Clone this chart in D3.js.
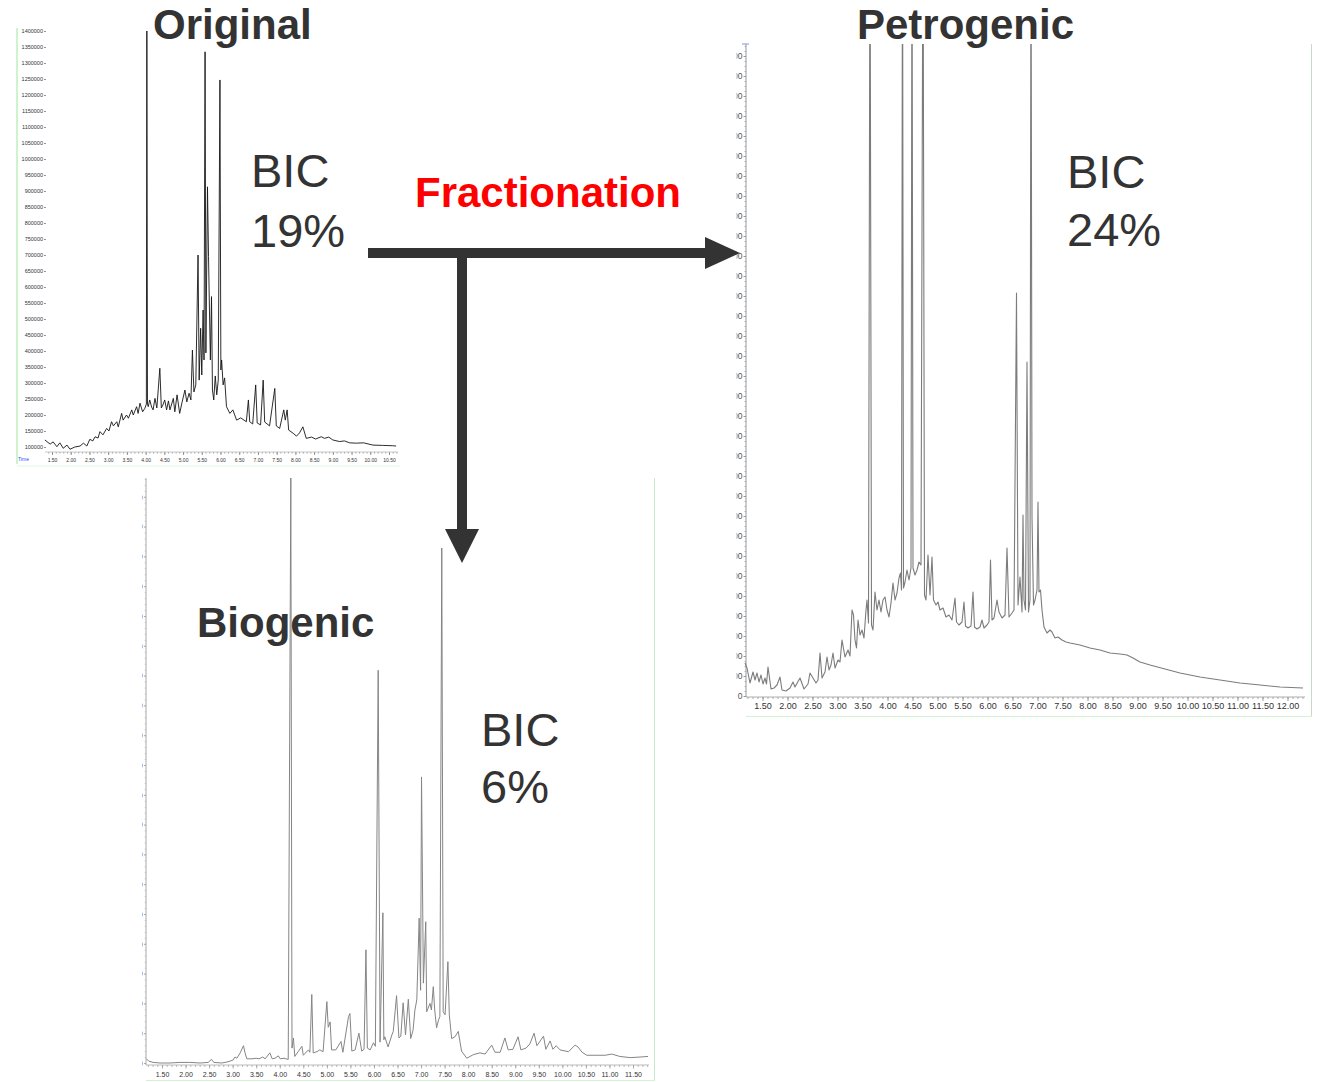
<!DOCTYPE html>
<html>
<head>
<meta charset="utf-8">
<script src="https://cdn.jsdelivr.net/npm/d3@7"></script>
<style>
  body { margin: 0; background: #fff; }
  svg { display: block; font-family: "Liberation Sans", Arial, sans-serif; }
</style>
</head>
<body>
<svg id="fig" width="1319" height="1082"></svg>
<script>
// ---- Chromatogram traces: [retention time (min), abundance (thousand counts)] ----
const originalTrace = [
  [1.31,122],[1.45,109],[1.53,116],[1.63,101],[1.71,113],[1.80,96],[1.90,106],[1.98,93],[2.11,100],[2.25,103],
  [2.34,112],[2.43,103],[2.51,124],[2.59,119],[2.65,132],[2.73,128],[2.78,148],[2.86,138],[2.96,158],[3.02,150],
  [3.09,179],[3.14,166],[3.23,179],[3.27,163],[3.36,205],[3.40,184],[3.49,200],[3.54,190],[3.63,216],[3.67,200],
  [3.76,226],[3.80,205],[3.85,237],[3.92,210],[3.98,221],[4.02,234],[4.033,1400],[4.05,234],[4.07,226],[4.11,247],
  [4.16,225],[4.20,216],[4.25,252],[4.30,222],[4.38,346],[4.42,222],[4.46,231],[4.51,247],[4.56,216],[4.61,244],
  [4.65,216],[4.74,252],[4.78,210],[4.84,263],[4.91,205],[4.97,238],[5.05,278],[5.10,241],[5.16,268],[5.21,247],
  [5.25,403],[5.29,272],[5.34,294],[5.40,700],[5.43,309],[5.47,471],[5.50,325],[5.535,528],[5.56,372],[5.588,1335],
  [5.61,394],[5.652,913],[5.68,695],[5.705,528],[5.73,372],[5.76,570],[5.785,278],[5.82,247],[5.86,322],[5.90,263],
  [5.94,309],[5.985,1247],[6.01,341],[6.03,372],[6.07,294],[6.11,316],[6.16,226],[6.25,205],[6.33,216],[6.43,184],
  [6.54,191],[6.69,179],[6.745,247],[6.78,179],[6.86,172],[6.94,294],[6.98,175],[7.07,169],[7.14,309],[7.18,178],
  [7.31,166],[7.45,283],[7.49,166],[7.58,158],[7.69,216],[7.73,184],[7.78,216],[7.82,153],[7.94,143],[8.03,134],
  [8.11,144],[8.20,163],[8.29,127],[8.43,131],[8.54,125],[8.69,132],[8.78,127],[8.89,131],[9.00,122],[9.18,117],
  [9.31,119],[9.45,113],[9.63,112],[9.82,113],[10.07,106],[10.33,105],[10.60,104],[10.69,103]
];

const petrogenicTrace = [
  [1.15,33],[1.19,28],[1.25,13],[1.31,24],[1.35,16],[1.39,23],[1.43,14],[1.47,21],[1.51,12],[1.55,18],
  [1.58,12],[1.61,29],[1.67,7],[1.73,8],[1.79,11],[1.85,19],[1.89,6],[1.97,5],[2.05,8],[2.11,14],
  [2.15,9],[2.25,18],[2.33,7],[2.41,12],[2.45,23],[2.51,18],[2.57,13],[2.61,16],[2.65,43],[2.69,18],
  [2.75,24],[2.79,39],[2.83,26],[2.87,31],[2.91,43],[2.95,28],[3.01,36],[3.05,34],[3.09,56],[3.15,39],
  [3.21,46],[3.25,40],[3.29,86],[3.32,81],[3.35,56],[3.38,48],[3.41,76],[3.45,61],[3.49,66],[3.53,58],
  [3.57,86],[3.59,96],[3.62,73],[3.65,800],[3.68,71],[3.71,66],[3.75,104],[3.79,86],[3.83,96],[3.87,84],
  [3.91,96],[3.95,99],[3.99,86],[4.03,79],[4.07,93],[4.11,113],[4.15,96],[4.19,103],[4.23,118],[4.26,123],
  [4.28,106],[4.30,800],[4.32,108],[4.35,114],[4.39,126],[4.43,116],[4.47,128],[4.49,800],[4.51,128],[4.55,121],
  [4.59,126],[4.63,134],[4.67,131],[4.71,800],[4.74,101],[4.77,96],[4.81,141],[4.85,101],[4.89,139],[4.92,96],
  [4.97,91],[5.01,94],[5.05,86],[5.11,88],[5.17,79],[5.23,81],[5.29,76],[5.35,98],[5.38,74],[5.43,71],
  [5.49,74],[5.53,94],[5.56,70],[5.61,68],[5.67,70],[5.71,104],[5.74,69],[5.79,67],[5.85,69],[5.89,76],
  [5.93,68],[5.99,71],[6.03,74],[6.06,136],[6.09,76],[6.13,78],[6.19,96],[6.23,84],[6.29,78],[6.35,81],
  [6.39,148],[6.43,79],[6.49,83],[6.53,86],[6.58,403],[6.61,91],[6.65,119],[6.69,84],[6.71,181],[6.73,96],
  [6.76,86],[6.79,334],[6.82,84],[6.85,96],[6.87,800],[6.89,179],[6.92,91],[6.95,96],[6.99,106],[7.01,194],
  [7.03,104],[7.06,106],[7.09,86],[7.13,69],[7.19,63],[7.25,66],[7.29,64],[7.35,58],[7.41,59],[7.49,56],
  [7.57,54],[7.65,53],[7.85,51],[8.05,48],[8.25,46],[8.45,43],[8.65,42],[8.79,41],[8.91,38],[9.05,34],
  [9.25,31],[9.55,27],[9.85,23],[10.25,19],[10.65,16],[11.05,13],[11.45,11],[11.85,9],[12.31,8]
];

const biogenicTrace = [
  [1.17,7],[1.22,3],[1.31,1],[1.46,0],[1.67,0],[1.88,1],[2.09,1],[2.31,0],[2.48,1],[2.55,6],
  [2.60,1],[2.77,0],[2.90,2],[3.01,5],[3.05,10],[3.09,8],[3.16,17],[3.23,29],[3.26,18],[3.30,7],
  [3.41,7],[3.50,8],[3.56,7],[3.64,10],[3.69,7],[3.79,17],[3.84,7],[3.90,8],[3.97,12],[4.01,7],
  [4.09,8],[4.18,6],[4.235,985],[4.26,25],[4.29,42],[4.32,11],[4.39,19],[4.47,28],[4.50,13],[4.61,22],
  [4.64,18],[4.68,115],[4.71,17],[4.79,19],[4.85,22],[4.92,19],[5.00,103],[5.03,60],[5.07,69],[5.10,22],
  [5.19,22],[5.30,36],[5.34,18],[5.46,78],[5.49,83],[5.53,20],[5.60,22],[5.68,50],[5.74,20],[5.79,23],
  [5.83,190],[5.86,25],[5.92,22],[5.99,34],[6.03,28],[6.09,659],[6.13,35],[6.19,252],[6.21,39],[6.23,44],
  [6.30,27],[6.38,47],[6.41,53],[6.48,113],[6.53,42],[6.57,45],[6.62,101],[6.67,47],[6.73,107],[6.78,41],
  [6.83,55],[6.87,89],[6.91,106],[6.96,243],[6.99,122],[7.01,480],[7.05,134],[7.10,237],[7.12,86],[7.15,92],
  [7.19,100],[7.22,89],[7.26,128],[7.29,89],[7.33,59],[7.37,72],[7.40,78],[7.44,864],[7.47,86],[7.51,81],
  [7.57,170],[7.60,81],[7.65,41],[7.72,44],[7.79,53],[7.86,20],[7.97,8],[8.11,14],[8.25,17],[8.36,15],
  [8.50,30],[8.57,18],[8.68,18],[8.78,42],[8.85,22],[8.95,23],[9.06,44],[9.12,22],[9.23,25],[9.31,32],
  [9.40,50],[9.46,29],[9.53,37],[9.60,45],[9.65,23],[9.74,37],[9.80,23],[9.87,29],[9.95,22],[10.13,19],
  [10.27,30],[10.33,27],[10.42,18],[10.52,13],[10.69,13],[10.91,13],[11.05,15],[11.22,11],[11.44,9],[11.65,10],
  [11.82,11]
];

// ---- Tick labels ----
const originalTimeTicks = ["1.50","2.00","2.50","3.00","3.50","4.00","4.50","5.00","5.50","6.00",
  "6.50","7.00","7.50","8.00","8.50","9.00","9.50","10.00","10.50"];
const petrogenicTimeTicks = ["1.50","2.00","2.50","3.00","3.50","4.00","4.50","5.00","5.50","6.00","6.50",
  "7.00","7.50","8.00","8.50","9.00","9.50","10.00","10.50","11.00","11.50","12.00"];
const biogenicTimeTicks = ["1.50","2.00","2.50","3.00","3.50","4.00","4.50","5.00","5.50","6.00","6.50",
  "7.00","7.50","8.00","8.50","9.00","9.50","10.00","10.50","11.00","11.50"];
const originalAbundanceTicks = [100,150,200,250,300,350,400,450,500,550,600,650,700,750,800,850,
  900,950,1000,1050,1100,1150,1200,1250,1300,1350,1400];
const petrogenicAbundanceTicks = [0,20,40,60,80,100,120,140,160,180,200,220,240,260,280,300,320,
  340,360,380,400,420,440,460,480,500,520,540,560,580,600,620,640];
const biogenicAbundanceTicks = [0,50,100,150,200,250,300,350,400,450,500,550,600,650,700,750,800,850,900,950];

// ---- Panel titles and annotations ----
const panelTitles = ["Original", "Petrogenic", "Biogenic"];
const bicShares = ["19%", "24%", "6%"];
const processLabel = "Fractionation";

const svg = d3.select("#fig");
const defs = svg.append("defs");
const countFmt = d => String(Math.round(d * 1000));

function vline(g, x, y1, y2, color, w) {
  g.append("line").attr("x1", x).attr("x2", x).attr("y1", y1).attr("y2", y2)
    .attr("stroke", color).attr("stroke-width", w);
}
function hline(g, y, x1, x2, color, w) {
  g.append("line").attr("x1", x1).attr("x2", x2).attr("y1", y).attr("y2", y)
    .attr("stroke", color).attr("stroke-width", w);
}

// One chromatogram panel: frame, axes, trace
function chromatogram(cfg) {
  const g = svg.append("g");
  const x = d3.scaleLinear().domain([1.5, cfg.lastTick]).range(cfg.xRange);
  const y = d3.scaleLinear().domain(cfg.yDomain).range(cfg.yRange);

  // frame lines
  cfg.frame(g);

  // time axis: minor ticks
  const minor = d3.range(Math.ceil(x.invert(cfg.plotLeft) * 10) / 10, x.invert(cfg.axisRight), 0.1);
  g.append("g").attr("transform", `translate(0,${cfg.axisY})`)
    .call(d3.axisBottom(x).tickValues(minor).tickSize(cfg.minorLen).tickFormat(""))
    .call(a => a.select(".domain").remove())
    .call(a => a.selectAll("line").attr("stroke", cfg.tickColor).attr("stroke-width", 0.7));
  // time axis: labelled ticks
  const major = g.append("g").attr("transform", `translate(0,${cfg.axisY})`)
    .call(d3.axisBottom(x).tickValues(cfg.timeTicks.map(Number)).tickSize(cfg.majorLen)
      .tickFormat(d3.format(".2f")))
    .call(a => a.select(".domain").remove())
    .call(a => a.selectAll("line").attr("stroke", cfg.tickColor).attr("stroke-width", 0.8));
  major.selectAll("text").attr("y", cfg.labelDy).attr("dy", null)
    .attr("font-size", cfg.timeFont).attr("fill", cfg.labelColor)
    .attr("font-family", '"Liberation Sans", Arial, sans-serif');
  hline(g, cfg.axisY, cfg.plotLeft, cfg.axisRight, cfg.axisColor, 0.8);

  // abundance axis
  const yAxisG = g.append("g").attr("transform", `translate(${cfg.yAxisX},0)`)
    .call(d3.axisLeft(y).tickValues(cfg.abundanceTicks).tickSize(cfg.yTickLen).tickPadding(cfg.yPad)
      .tickFormat(cfg.yFormat))
    .call(a => a.select(".domain").remove())
    .call(a => a.selectAll("line").attr("stroke", cfg.tickColor).attr("stroke-width", 0.8));
  yAxisG.selectAll("text").attr("font-size", cfg.yFont).attr("fill", cfg.yLabelColor)
    .attr("font-family", '"Liberation Sans", Arial, sans-serif');
  if (cfg.yClip) {
    const id = cfg.id + "-yclip";
    defs.append("clipPath").attr("id", id).append("rect")
      .attr("x", cfg.yClip - cfg.yAxisX).attr("y", 0).attr("width", 40).attr("height", 1082);
    yAxisG.selectAll(".tick text").attr("clip-path", null);
    yAxisG.attr("clip-path", `url(#${id})`);
  }
  if (cfg.yMinorStep) {
    const ym = d3.range(cfg.yDomain[0], y.invert(cfg.plotTop), cfg.yMinorStep);
    g.append("g").attr("transform", `translate(${cfg.yAxisX},0)`)
      .call(d3.axisLeft(y).tickValues(ym).tickSize(cfg.yMinorLen).tickFormat(""))
      .call(a => a.select(".domain").remove())
      .call(a => a.selectAll("line").attr("stroke", cfg.tickColor).attr("stroke-width", 0.6));
  }
  if (cfg.yAxisLine) vline(g, cfg.yAxisX, cfg.plotTop, cfg.axisY, cfg.axisColor, 1);

  // trace
  const clipId = cfg.id + "-clip";
  defs.append("clipPath").attr("id", clipId).append("rect")
    .attr("x", cfg.plotLeft - 2).attr("y", cfg.plotTop)
    .attr("width", cfg.axisRight - cfg.plotLeft + 4).attr("height", cfg.axisY - cfg.plotTop);
  const line = d3.line().x(d => x(d[0])).y(d => y(d[1]));
  g.append("path").datum(cfg.trace).attr("d", line)
    .attr("clip-path", `url(#${clipId})`)
    .attr("fill", "none").attr("stroke", cfg.traceColor).attr("stroke-width", cfg.traceWidth)
    .attr("stroke-linejoin", "round");
  return g;
}

// ---- Original ----
chromatogram({
  id: "orig", trace: originalTrace, timeTicks: originalTimeTicks, lastTick: 10.5,
  xRange: [52, 389], yDomain: [100, 1400], yRange: [447, 31],
  plotLeft: 45, plotTop: 26, axisRight: 398, axisY: 452,
  minorLen: 1.5, majorLen: 3, labelDy: 9.5, timeFont: 5, labelColor: "#333",
  tickColor: "#777", axisColor: "#bbb",
  abundanceTicks: originalAbundanceTicks, yAxisX: 46, yTickLen: 2, yPad: 1,
  yFormat: countFmt, yFont: 5.5, yLabelColor: "#333",
  traceColor: "#151515", traceWidth: 0.9,
  frame: g => {
    vline(g, 17, 28, 464, "#b9f0b9", 1.4);
    hline(g, 466, 17, 400, "#e2f6e2", 1);
    g.append("text").attr("x", 18).attr("y", 461).attr("font-size", 5)
      .attr("fill", "#3050ff").text("Time");
  }
});

// ---- Petrogenic ----
chromatogram({
  id: "petro", trace: petrogenicTrace, timeTicks: petrogenicTimeTicks, lastTick: 12.0,
  xRange: [762.5, 1287.5], yDomain: [0, 640], yRange: [696, 56],
  plotLeft: 746, plotTop: 44, axisRight: 1305, axisY: 697,
  minorLen: 2, majorLen: 4, labelDy: 12, timeFont: 9, labelColor: "#333",
  tickColor: "#888", axisColor: "#999",
  abundanceTicks: petrogenicAbundanceTicks, yAxisX: 746, yTickLen: 2.5, yPad: 1,
  yFormat: countFmt, yFont: 8.5, yLabelColor: "#555", yClip: 736.5,
  yMinorStep: 5, yMinorLen: 1.5, yAxisLine: true,
  traceColor: "#7c7c7c", traceWidth: 1.1,
  frame: g => {
    vline(g, 1311.5, 44, 717, "#c9d9c9", 1);
    hline(g, 716.5, 746, 1312, "#d3f3d3", 1);
    hline(g, 44, 742, 749, "#8090ff", 1);
  }
});

// ---- Biogenic ----
chromatogram({
  id: "bio", trace: biogenicTrace, timeTicks: biogenicTimeTicks, lastTick: 11.5,
  xRange: [162, 633], yDomain: [0, 950], yRange: [1063, 496.8],
  plotLeft: 146, plotTop: 478, axisRight: 649, axisY: 1065,
  minorLen: 2, majorLen: 3.5, labelDy: 11.5, timeFont: 7, labelColor: "#333",
  tickColor: "#999", axisColor: "#aaa",
  abundanceTicks: biogenicAbundanceTicks, yAxisX: 146, yTickLen: 2, yPad: 1,
  yFormat: countFmt, yFont: 7, yLabelColor: "#777", yClip: 142,
  yMinorStep: 10, yMinorLen: 1.2, yAxisLine: true,
  traceColor: "#858585", traceWidth: 1,
  frame: g => {
    vline(g, 654.5, 478, 1081, "#c9e9c9", 1);
    hline(g, 1080.5, 146, 655, "#d3f3d3", 1);
  }
});

// ---- Fractionation arrows ----
const ink = "#333";
svg.append("rect").attr("x", 368).attr("y", 248).attr("width", 340).attr("height", 10).attr("fill", ink);
svg.append("path").attr("d", "M705,237 L740,253 L705,269 Z").attr("fill", ink);
svg.append("rect").attr("x", 457).attr("y", 253).attr("width", 10).attr("height", 278).attr("fill", ink);
svg.append("path").attr("d", "M445,529 L479,529 L462,563 Z").attr("fill", ink);

// ---- Titles and annotations ----
const titlePos = [[153, 39], [857, 39], [197, 637]];
const bicPos = [[251, 187, 247], [1067, 188, 246], [481, 746, 803]];
panelTitles.forEach((t, i) => {
  svg.append("text").attr("x", titlePos[i][0]).attr("y", titlePos[i][1])
    .attr("font-size", 42).attr("font-weight", "bold").attr("fill", "#333").text(t);
  svg.append("text").attr("x", bicPos[i][0]).attr("y", bicPos[i][1])
    .attr("font-size", 47).attr("fill", "#333").text("BIC");
  svg.append("text").attr("x", bicPos[i][0]).attr("y", bicPos[i][2])
    .attr("font-size", 47).attr("fill", "#333").text(bicShares[i]);
});
svg.append("text").attr("x", 415).attr("y", 207).attr("font-size", 42).attr("font-weight", "bold")
  .attr("fill", "#ff0000").text(processLabel);
</script>
</body>
</html>
